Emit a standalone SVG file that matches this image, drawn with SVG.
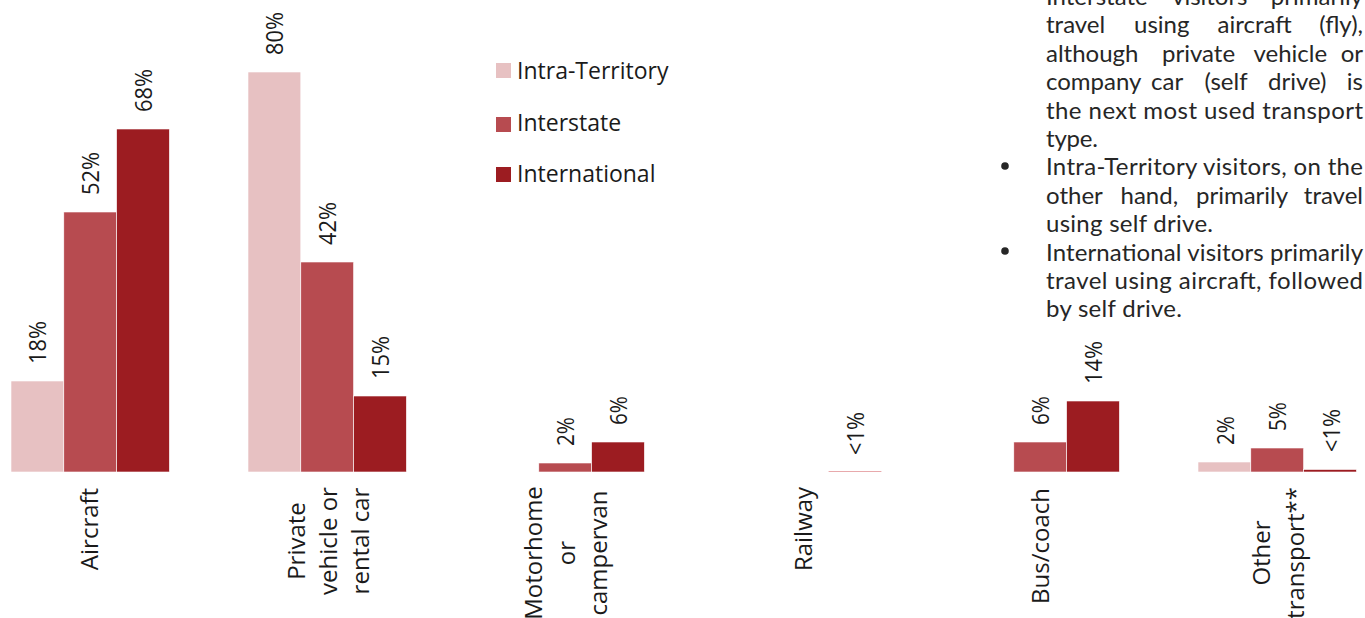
<svg xmlns="http://www.w3.org/2000/svg" width="1365" height="618" viewBox="0 0 1365 618">
<style>
.intra{fill:#E7C1C2}
.inter{fill:#B74B50}
.intl{fill:#9C1C21}
.bar{stroke:#ffffff;stroke-width:0.6}
.val{font-family:"Open Sans","Liberation Sans",sans-serif;font-size:24px;fill:#1a1a1a}
.cat{font-family:"Open Sans","Liberation Sans",sans-serif;font-size:24px;fill:#1a1a1a;text-anchor:middle}
.leg{font-family:"Open Sans","Liberation Sans",sans-serif;font-size:23px;fill:#1a1a1a}
.note{font-family:Lato,"Open Sans",sans-serif;font-size:24px;fill:#262626}
.end{text-anchor:end}
</style>
<rect width="1365" height="618" fill="#ffffff"/>

<g id="cat-aircraft">
<rect class="bar intra" x="11" y="381" width="52.8" height="91"/>
<rect class="bar inter" x="63.8" y="212" width="52.8" height="260"/>
<rect class="bar intl" x="116.6" y="129" width="52.8" height="343"/>
<text class="val" transform="translate(45.9,364) rotate(-90)" textLength="43" lengthAdjust="spacingAndGlyphs">18%</text>
<text class="val" transform="translate(98.7,195) rotate(-90)" textLength="43" lengthAdjust="spacingAndGlyphs">52%</text>
<text class="val" transform="translate(151.5,112) rotate(-90)" textLength="43" lengthAdjust="spacingAndGlyphs">68%</text>
<text class="cat" transform="translate(98,529) rotate(-90)">Aircraft</text>
</g>

<g id="cat-private">
<rect class="bar intra" x="248" y="72" width="52.8" height="400"/>
<rect class="bar inter" x="300.8" y="262" width="52.8" height="210"/>
<rect class="bar intl" x="353.6" y="396" width="52.8" height="76"/>
<text class="val" transform="translate(282.9,55) rotate(-90)" textLength="43" lengthAdjust="spacingAndGlyphs">80%</text>
<text class="val" transform="translate(335.7,245) rotate(-90)" textLength="43" lengthAdjust="spacingAndGlyphs">42%</text>
<text class="val" transform="translate(388.5,379) rotate(-90)" textLength="43" lengthAdjust="spacingAndGlyphs">15%</text>
<text class="cat" transform="translate(305,541) rotate(-90)">Private</text>
<text class="cat" transform="translate(337,541) rotate(-90)">vehicle or</text>
<text class="cat" transform="translate(369,541) rotate(-90)">rental car</text>
</g>

<g id="cat-motorhome">
<rect class="bar inter" x="538.8" y="463" width="52.8" height="9"/>
<rect class="bar intl" x="591.6" y="442" width="52.8" height="30"/>
<text class="val" transform="translate(573.5,446) rotate(-90)" textLength="29" lengthAdjust="spacingAndGlyphs">2%</text>
<text class="val" transform="translate(626.5,425) rotate(-90)" textLength="29" lengthAdjust="spacingAndGlyphs">6%</text>
<text class="cat" transform="translate(542,553) rotate(-90)">Motorhome</text>
<text class="cat" transform="translate(575,553) rotate(-90)">or</text>
<text class="cat" transform="translate(607,553) rotate(-90)">campervan</text>
</g>

<g id="cat-railway">
<rect x="828.6" y="471" width="52.8" height="1" fill="#E8A9AC"/>
<text class="val" transform="translate(863.5,455) rotate(-90)" textLength="43" lengthAdjust="spacingAndGlyphs">&lt;1%</text>
<text class="cat" transform="translate(812,529) rotate(-90)">Railway</text>
</g>

<g id="cat-bus">
<rect class="bar inter" x="1013.8" y="442" width="52.8" height="30"/>
<rect class="bar intl" x="1066.6" y="401" width="52.8" height="71"/>
<text class="val" transform="translate(1048.5,425) rotate(-90)" textLength="29" lengthAdjust="spacingAndGlyphs">6%</text>
<text class="val" transform="translate(1101.5,384) rotate(-90)" textLength="43" lengthAdjust="spacingAndGlyphs">14%</text>
<text class="cat" transform="translate(1049,546) rotate(-90)">Bus/coach</text>
</g>

<g id="cat-other">
<rect class="bar intra" x="1198" y="462" width="52.8" height="10"/>
<rect class="bar inter" x="1250.8" y="448" width="52.8" height="24"/>
<rect class="bar intl" x="1303.6" y="469.5" width="52.8" height="2.5"/>
<text class="val" transform="translate(1233.5,445) rotate(-90)" textLength="29" lengthAdjust="spacingAndGlyphs">2%</text>
<text class="val" transform="translate(1285.5,431) rotate(-90)" textLength="29" lengthAdjust="spacingAndGlyphs">5%</text>
<text class="val" transform="translate(1339.5,452) rotate(-90)" textLength="43" lengthAdjust="spacingAndGlyphs">&lt;1%</text>
<text class="cat" transform="translate(1270,553) rotate(-90)">Other</text>
<text class="cat" transform="translate(1304,553) rotate(-90)">transport**</text>
</g>

<g id="legend">
<rect class="intra" x="496" y="63" width="15" height="15"/>
<text class="leg" x="517" y="79">Intra-Territory</text>
<rect class="inter" x="496" y="117" width="15" height="15"/>
<text class="leg" x="517" y="131">Interstate</text>
<rect class="intl" x="496" y="167" width="15" height="15"/>
<text class="leg" x="517" y="182">International</text>
</g>

<g id="notes">
<text class="note" x="1046" y="5">Interstate</text>
<text class="note" x="1172" y="5">visitors</text>
<text class="note end" x="1363" y="5">primarily</text>

<text class="note" x="1046" y="33.4">travel</text>
<text class="note" x="1134" y="33.4">using</text>
<text class="note" x="1217.5" y="33.4">aircraft</text>
<text class="note end" x="1363" y="33.4">(fly),</text>

<text class="note" x="1046" y="61.8">although</text>
<text class="note" x="1162" y="61.8">private</text>
<text class="note" x="1253.5" y="61.8">vehicle</text>
<text class="note end" x="1363" y="61.8">or</text>

<text class="note" x="1046" y="90.2">company</text>
<text class="note" x="1151" y="90.2">car</text>
<text class="note" x="1204.5" y="90.2">(self</text>
<text class="note" x="1268" y="90.2">drive)</text>
<text class="note end" x="1363" y="90.2">is</text>

<text class="note" x="1046" y="118.6" textLength="317" lengthAdjust="spacing">the next most used transport</text>
<text class="note" x="1046" y="147" textLength="52" lengthAdjust="spacing">type.</text>

<circle cx="1005" cy="166" r="3.8" fill="#262626"/>
<text class="note" x="1046" y="175.4" textLength="317" lengthAdjust="spacing">Intra-Territory visitors, on the</text>
<text class="note" x="1046" y="203.8">other</text>
<text class="note" x="1120.5" y="203.8">hand,</text>
<text class="note" x="1196" y="203.8">primarily</text>
<text class="note end" x="1363" y="203.8">travel</text>
<text class="note" x="1046" y="232.2" textLength="167" lengthAdjust="spacing">using self drive.</text>

<circle cx="1005" cy="251" r="3.8" fill="#262626"/>
<text class="note" x="1046" y="260.6" textLength="317" lengthAdjust="spacing">International visitors primarily</text>
<text class="note" x="1046" y="289" textLength="317" lengthAdjust="spacing">travel using aircraft, followed</text>
<text class="note" x="1046" y="317.4" textLength="136" lengthAdjust="spacing">by self drive.</text>
</g>
</svg>
